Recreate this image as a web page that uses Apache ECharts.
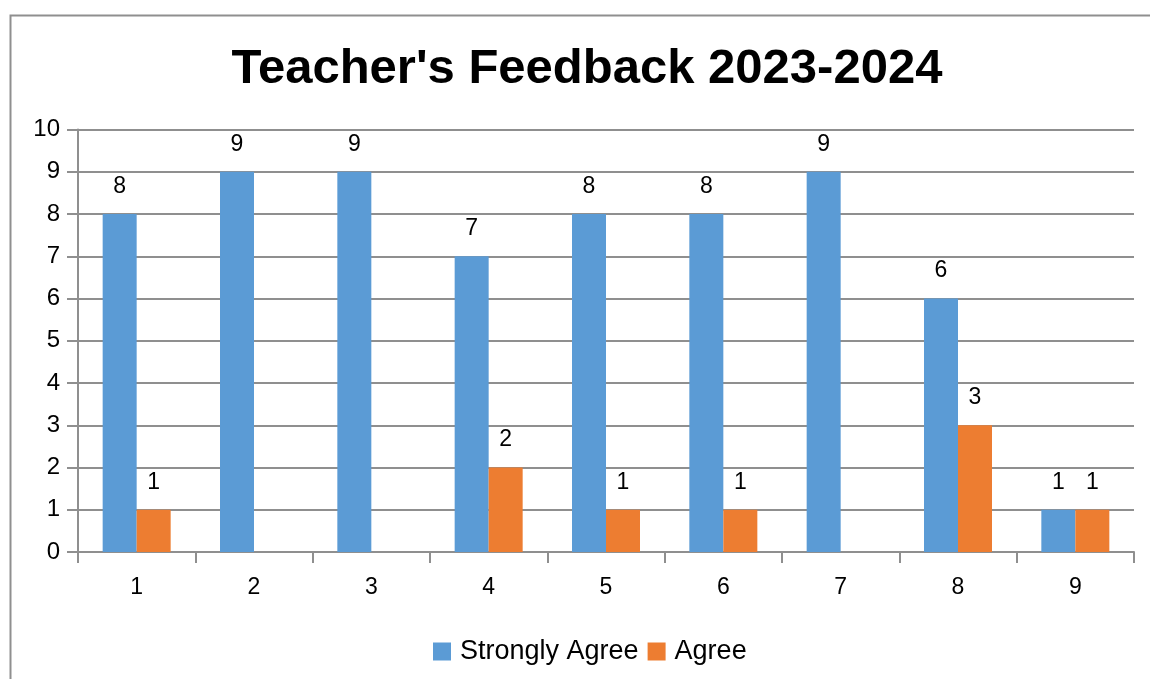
<!DOCTYPE html>
<html><head><meta charset="utf-8">
<script src="https://cdn.jsdelivr.net/npm/echarts@6/dist/echarts.min.js"></script>
<style>html,body{margin:0;padding:0;background:#fff;}#c{width:1150px;height:679px;}</style>
</head><body><div id="c"></div>
<script>
const categories = ['1','2','3','4','5','6','7','8','9'];
const stronglyAgree = [8,9,9,7,8,8,9,6,1];
const agree = [1,0,0,2,1,1,0,3,1];
const seriesNames = ['Strongly Agree','Agree'];
const titleText = "Teacher's Feedback 2023-2024";

const chart = echarts.init(document.getElementById('c'), null, {renderer:'canvas'});
const font = 'Liberation Sans, Helvetica, Arial, sans-serif';
const lbl = {show:true, position:'top', distance:16, color:'#000', fontSize:23, fontFamily:font,
  formatter: p => p.value === 0 ? '' : String(p.value)};
chart.setOption({
  animation:false,
  graphic:[{type:'polyline', shape:{points:[[10.5,700],[10.5,15.5],[1160,15.5]]}, style:{stroke:'#8f8f8f', lineWidth:2, fill:null}}],
  title:{text:titleText, left:582, top:40, textAlign:'center',
    textStyle:{fontFamily:font, fontWeight:'bold', fontSize:49, color:'#000'}},
  legend:{data:seriesNames, top:633, left:428, itemWidth:18, itemHeight:18, itemGap:9, icon:'rect',
    textStyle:{fontFamily:font, fontSize:27, color:'#000', padding:[0,0,0,4]}},
  grid:{left:78, right:16, top:129.5, bottom:127, containLabel:false},
  xAxis:{type:'category', data:categories,
    axisLine:{lineStyle:{color:'#8f8f8f', width:2}},
    axisTick:{show:true, length:11, lineStyle:{color:'#8f8f8f', width:2}},
    axisLabel:{color:'#000', fontSize:23, fontFamily:font, margin:24}},
  yAxis:{type:'value', min:0, max:10, interval:1,
    axisLine:{show:true, lineStyle:{color:'#8f8f8f', width:2}},
    axisTick:{show:true, length:11, lineStyle:{color:'#8f8f8f', width:2}},
    splitLine:{lineStyle:{color:'#8f8f8f', width:2}},
    axisLabel:{color:'#000', fontSize:24, fontFamily:font, margin:18}},
  series:[
    {name:seriesNames[0], type:'bar', data:stronglyAgree, barWidth:34, barGap:'0%', itemStyle:{color:'#5b9bd5'}, label:lbl},
    {name:seriesNames[1], type:'bar', data:agree, barWidth:34, barGap:'0%', itemStyle:{color:'#ed7d31'}, label:lbl}
  ]
});
</script></body></html>
